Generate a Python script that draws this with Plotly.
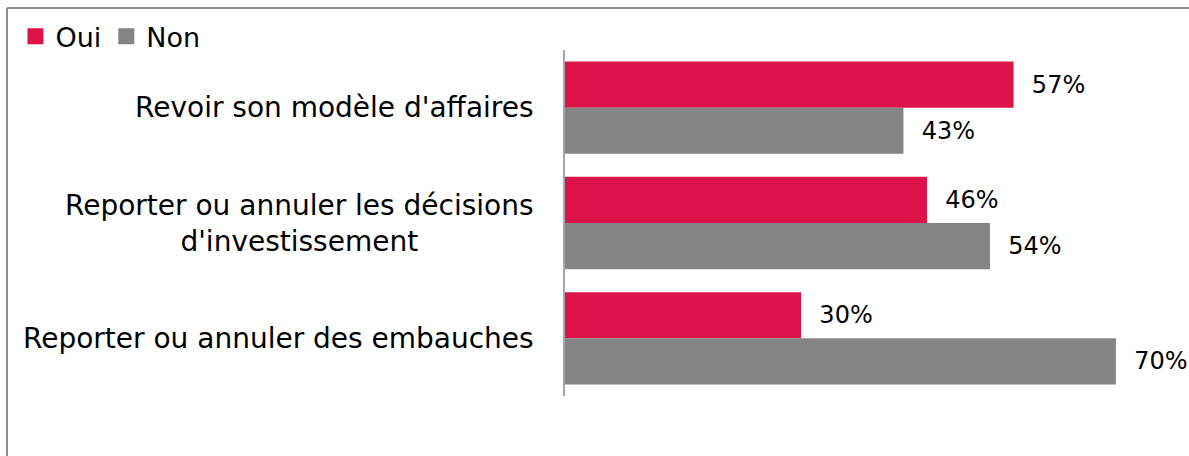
import plotly.graph_objects as go

categories = ["Revoir son modèle d'affaires",
              "Reporter ou annuler les décisions<br>d'investissement",
              "Reporter ou annuler des embauches"]
oui = [57, 46, 30]
non = [43, 54, 70]
series_names = ["Oui", "Non"]
colors = ["#DC1349", "#848484"]

FONT = "DejaVu Sans"
FS_LABEL = 28
FS_VAL = 24
FS_LEG = 27

W, H = 1189, 456
ml, mr, mt, mb = 565, 34, 50, 60
pw, ph = W - ml - mr, H - mt - mb

fig = go.Figure()
for name, vals, col in zip(series_names, [oui, non], colors):
    fig.add_trace(go.Bar(
        y=categories, x=vals, orientation="h", name=name,
        marker=dict(color=col, line=dict(width=0)),
        texttemplate="\u00a0\u00a0%{x}%", textposition="outside",
        textfont=dict(family=FONT, size=FS_VAL, color="black"),
        cliponaxis=False, showlegend=False, legendgroup=name,
    ))
    fig.add_trace(go.Scatter(
        x=[None], y=[None], mode="markers", name=name, legendgroup=name,
        marker=dict(symbol="square", size=18, color=col),
    ))

# category labels as annotations (centered multi-line)
for cat in categories:
    fig.add_annotation(
        xref="paper", x=0, yref="y", y=cat, text=cat, showarrow=False,
        xanchor="right", yanchor="middle", xshift=-29, align="center",
        font=dict(family=FONT, size=FS_LABEL, color="black"),
    )

# outer border (top and left lines)
x_left = (7 - ml) / pw
y_top = (H - mb - 8) / ph
fig.add_shape(type="line", xref="paper", yref="paper", x0=x_left, x1=1.2,
              y0=y_top, y1=y_top, line=dict(color="#8c8c8c", width=2))
fig.add_shape(type="line", xref="paper", yref="paper", x0=x_left, x1=x_left,
              y0=y_top, y1=-0.3, line=dict(color="#8c8c8c", width=2))

fig.update_layout(
    width=W, height=H, margin=dict(l=ml, r=mr, t=mt, b=mb, autoexpand=False),
    paper_bgcolor="white", plot_bgcolor="white",
    barmode="group", bargap=0.2, bargroupgap=0,
    font=dict(family=FONT, size=FS_LABEL, color="black"),
    showlegend=True,
    legend=dict(orientation="h", xref="container", yref="container",
                x=0.013, y=1 - 0.027, xanchor="left", yanchor="top",
                font=dict(family=FONT, size=FS_LEG, color="black"),
                itemsizing="trace", bgcolor="rgba(0,0,0,0)",
                tracegroupgap=0, itemwidth=30),
    xaxis=dict(range=[0, pw / 7.87], visible=False, fixedrange=True),
    yaxis=dict(autorange="reversed", showticklabels=False, ticks="",
               showline=True, linecolor="#a6a6a6", linewidth=2,
               showgrid=False, zeroline=False),
)

fig.write_html("out.html")
